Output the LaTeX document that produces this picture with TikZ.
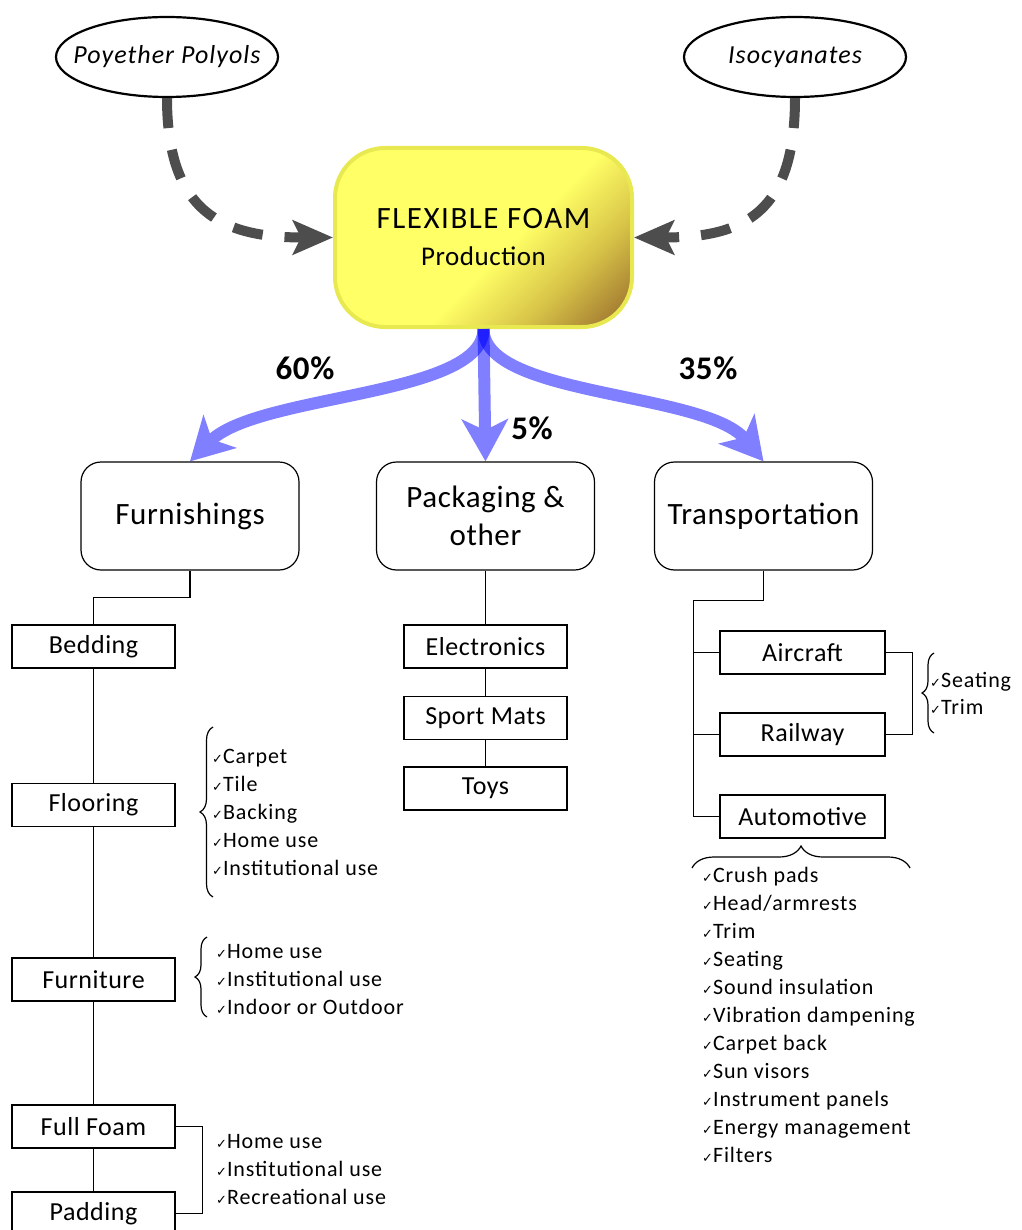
\documentclass[tikz,border=0pt]{standalone}
\usepackage{fontspec}
\setmainfont{Carlito}
\newfontfamily\dejavu{DejaVu Sans}
\newfontfamily\lsA[LetterSpace=4]{Carlito}
\newfontfamily\lsB[LetterSpace=2]{Carlito}
\newfontfamily\lsC[LetterSpace=5]{Carlito}
\usetikzlibrary{arrows.meta,decorations.pathreplacing,shapes.geometric}

\definecolor{fy}{HTML}{FFFF66}
\definecolor{fm}{HTML}{D8C448}
\definecolor{fb}{HTML}{9A6E2E}
\definecolor{fborder}{HTML}{E8E850}
\definecolor{dgray}{HTML}{4D4D4D}
\definecolor{dblue}{HTML}{0000FF}

\pgfdeclarehorizontalshading{foamshade}{100bp}{color(0bp)=(fy); color(48bp)=(fy); color(55bp)=(fy); color(69bp)=(fm); color(84bp)=(fb); color(100bp)=(fb)}

\newcommand{\ck}{{\dejavu\fontsize{13}{13}\selectfont ✓}}

\tikzset{
  ell/.style={ellipse, draw, line width=2.2pt, minimum width=222pt, minimum height=80pt, inner xsep=-16pt, inner ysep=0pt, font=\lsA\fontsize{26}{26}\selectfont\itshape},
  foambox/.style={rectangle, rounded corners=50pt, minimum width=297pt, minimum height=179pt, draw=fborder, line width=4pt, shading=foamshade, shading angle=-45, align=center, font=\lsC\fontsize{31}{37}\selectfont},
  cat/.style={draw, rounded corners=20pt, line width=1.2pt, minimum width=218pt, minimum height=108pt, align=center, inner sep=0pt, font=\lsB\fontsize{31}{38}\selectfont},
  sub/.style={draw, line width=1.2pt, minimum width=163pt, minimum height=43pt, inner sep=0pt, font=\lsB\fontsize{26}{26}\selectfont},
  conn/.style={line width=1.2pt},
  lst/.style={anchor=west, align=left, inner sep=0pt, font=\lsA\fontsize{22}{28}\selectfont},
  pct/.style={font=\lsB\bfseries\fontsize{33}{33}\selectfont},
  feed/.style={dgray, line width=10pt, dash pattern=on 30pt off 22pt, -{Stealth[length=40pt,width=34pt,inset=8pt]}},
  flow/.style={dblue, line width=12pt, -{Stealth[length=42pt,width=46pt,inset=11pt]}},
  brc/.style={decorate, decoration={brace, amplitude=#1}, line width=1.2pt},
}

\begin{document}
\begin{tikzpicture}[x=1pt, y=-1pt]
\useasboundingbox (0,0) rectangle (1021,1230);

% sources
\node[ell] (poly) at (167,57) {Poyether Polyols};
\node[ell] (iso) at (795,57) {Isocyanates};

% central box
\node[foambox] (foam) at (483.5,237.5) {FLEXIBLE FOAM\\{\lsB\fontsize{27}{27}\selectfont Production}};

\draw[feed] (poly.south) .. controls +(0,115) and +(-110,0) .. (foam.west);
\draw[feed] (iso.south) .. controls +(0,115) and +(110,0) .. (foam.east);

% categories
\node[cat] (furn) at (190,516) {Furnishings};
\node[cat] (pack) at (485.5,516) {Packaging \&\\other};
\node[cat] (trans) at (763.5,516) {Transportation};

% flows
\begin{scope}[transparency group, opacity=0.5]
\draw[flow] (foam.south) .. controls +(0,68) and +(68,-68) .. (furn.north);
\end{scope}
\begin{scope}[transparency group, opacity=0.5]
\draw[flow] (foam.south) -- (pack.north);
\end{scope}
\begin{scope}[transparency group, opacity=0.5]
\draw[flow] (foam.south) .. controls +(0,68) and +(-58,-70) .. (trans.north);
\end{scope}

\node[pct] (p60) at (305,368) {60\%};
\node[pct] (p5) at (532,428) {5\%};
\node[pct] (p35) at (708,368) {35\%};

% furnishings subtree
\node[sub] (bed) at (93.5,646.5) {Bedding};
\node[sub] (floor) at (93.5,805) {Flooring};
\node[sub] (furnit) at (93.5,979.5) {Furniture};
\node[sub] (full) at (93.5,1126.5) {Full Foam};
\node[sub] (pad) at (93.5,1213.5) {Padding};

\draw[conn] (furn.south) -- ++(0,27) -| (bed.north);
\draw[conn] (bed) -- (floor);
\draw[conn] (floor) -- (furnit);
\draw[conn] (furnit) -- (full);
\draw[conn] (full) -- (pad);
\draw[conn] (full.east) -- ++(27,0) |- (pad.east);

\draw[brc=13pt] (213,897) -- (213,727);
\node[lst] (flist) at (212,812) {\ck Carpet\\\ck Tile\\\ck Backing\\\ck Home use\\\ck Institutional use};

\draw[brc=12pt] (207,1017) -- (207,937);
\node[lst] (fulist) at (216,980) {\ck Home use\\\ck Institutional use\\\ck Indoor or Outdoor};

\node[lst] (fflist) at (216,1170) {\ck Home use\\\ck Institutional use\\\ck Recreational use};

% packaging subtree
\node[sub] (elec) at (485.5,646.5) {Electronics};
\node[sub] (sport) at (485.5,718) {Sport Mats};
\node[sub] (toys) at (485.5,788.5) {Toys};
\draw[conn] (pack) -- (elec);
\draw[conn] (elec) -- (sport);
\draw[conn] (sport) -- (toys);

% transportation subtree
\node[sub, minimum width=165pt] (air) at (802.5,652.5) {Aircraft};
\node[sub, minimum width=165pt] (rail) at (802.5,734.5) {Railway};
\node[sub, minimum width=165pt] (auto) at (802.5,816.5) {Automotive};
\coordinate (tj) at (693.5,600.5);
\draw[conn] (trans.south) |- (tj) -- (tj |- auto.west) -- (auto.west);
\draw[conn] (tj |- air.west) -- (air.west);
\draw[conn] (tj |- rail.west) -- (rail.west);
\draw[conn] (air.east) -- ++(27,0) |- (rail.east);

\draw[brc=12pt] (934,733) -- (934,653);
\node[lst, font=\lsA\fontsize{22}{27}\selectfont] (alist) at (930,693) {\ck Seating\\\ck Trim};

\draw[brc=22pt] (692,868) -- (910,868);
\node[lst] (aulist) at (702,1015) {\ck Crush pads\\\ck Head/armrests\\\ck Trim\\\ck Seating\\\ck Sound insulation\\\ck Vibration dampening\\\ck Carpet back\\\ck Sun visors\\\ck Instrument panels\\\ck Energy management\\\ck Filters};

\end{tikzpicture}
\end{document}
